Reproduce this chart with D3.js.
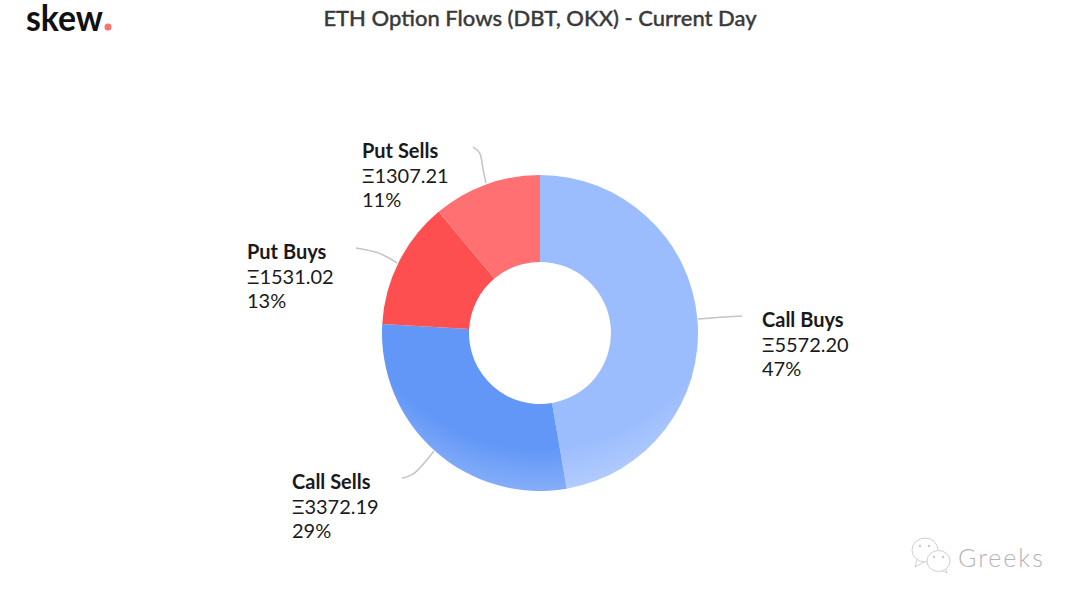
<!DOCTYPE html>
<html>
<head>
<meta charset="utf-8">
<script src="https://cdn.jsdelivr.net/npm/d3@7"></script>
<style>
  body { margin: 0; background: #fff; }
  svg { display: block; }
  text { font-family: Lato, "Open Sans", sans-serif; fill: #1a1a1a; }
</style>
</head>
<body>
<div id="chart"></div>
<script>
const categories = ['Call Buys', 'Call Sells', 'Put Buys', 'Put Sells'];
const flows = [5572.20, 3372.19, 1531.02, 1307.21];
const percents = [47, 29, 13, 11];
const sliceColors = ['#9cbdfd', '#6297f7', '#fd4f50', '#fe7072'];
const chartTitle = 'ETH Option Flows (DBT, OKX) - Current Day';

const width = 1080, height = 603;
const cx = 540, cy = 333, outerR = 158, innerR = 71;

// where each label block starts and how its leader bends
const labelPos = [[762, 327], [292, 489], [247, 259], [362, 158]];
const leaders = [
  [[698, 319], [720, 317], [742, 316]],
  [[434, 451], [422, 466], [412, 476], [402, 478]],
  [[397, 263], [380, 252], [356, 248]],
  [[486, 183], [482, 165], [481, 152], [473, 147]]
];

const svg = d3.select('#chart').append('svg')
  .attr('width', width)
  .attr('height', height);

// lightening towards the bottom edge, centred above the pie
const defs = svg.append('defs');
sliceColors.forEach((c, i) => {
  const grad = defs.append('radialGradient')
    .attr('id', 'slice' + i)
    .attr('gradientUnits', 'userSpaceOnUse')
    .attr('cx', 0).attr('cy', -77).attr('r', 235);
  grad.append('stop').attr('offset', '0.82').attr('stop-color', c);
  grad.append('stop').attr('offset', '1').attr('stop-color', d3.interpolateRgb(c, '#fff')(0.22));
});

const pie = d3.pie().sort(null).value(d => d);
const arc = d3.arc().innerRadius(innerR).outerRadius(outerR);

svg.append('g')
  .attr('transform', `translate(${cx},${cy})`)
  .selectAll('path')
  .data(pie(flows))
  .enter()
  .append('path')
  .attr('d', arc)
  .attr('fill', (d, i) => `url(#slice${i})`);

const leaderLine = d3.line().curve(d3.curveBasis);
svg.append('g')
  .selectAll('path')
  .data(leaders)
  .enter()
  .append('path')
  .attr('d', d => leaderLine(d))
  .attr('fill', 'none')
  .attr('stroke', '#c4c4c4')
  .attr('stroke-width', 1.5);

const labels = svg.append('g')
  .selectAll('g')
  .data(categories)
  .enter()
  .append('g')
  .attr('transform', (d, i) => `translate(${labelPos[i][0]},${labelPos[i][1]})`);

labels.append('text')
  .attr('font-size', 20)
  .attr('font-weight', 700)
  .text(d => d);
labels.append('text')
  .attr('y', 25)
  .attr('font-size', 20)
  .text((d, i) => 'Ξ' + flows[i].toFixed(2));
labels.append('text')
  .attr('y', 49)
  .attr('font-size', 20)
  .text((d, i) => percents[i] + '%');

svg.append('text')
  .attr('x', 540)
  .attr('y', 26)
  .attr('text-anchor', 'middle')
  .attr('font-size', 22)
  .attr('font-weight', 500)
  .attr('stroke', '#3a3a3a')
  .attr('stroke-width', 0.35)
  .style('fill', '#3a3a3a')
  .text(chartTitle);

// logo
svg.append('text')
  .attr('x', 26)
  .attr('y', 31)
  .attr('font-size', 37)
  .attr('font-weight', 700)
  .attr('textLength', 77)
  .attr('lengthAdjust', 'spacingAndGlyphs')
  .style('fill', '#111')
  .text('skew');
svg.append('circle')
  .attr('cx', 108).attr('cy', 27).attr('r', 3.5)
  .attr('fill', '#fe7072');

// watermark
const mark = svg.append('g').attr('fill', '#fff').attr('stroke', '#d0d0d0').attr('stroke-width', 1);
mark.append('path').attr('d', 'M917 560 L915 567 L924 562');
mark.append('ellipse').attr('cx', 925).attr('cy', 550).attr('rx', 13).attr('ry', 12);
mark.append('path').attr('d', 'M941 570 L947 573 L945 567');
mark.append('ellipse').attr('cx', 938.5).attr('cy', 561).attr('rx', 11.5).attr('ry', 10.5);
svg.append('g').attr('fill', '#c8c8c8')
  .selectAll('circle')
  .data([[920, 546], [929, 546], [934, 557], [943, 557]])
  .enter()
  .append('circle')
  .attr('cx', d => d[0]).attr('cy', d => d[1]).attr('r', 1.2);
svg.append('text')
  .attr('x', 958)
  .attr('y', 567)
  .attr('font-size', 25)
  .attr('font-weight', 300)
  .attr('letter-spacing', 2)
  .style('fill', '#b4b4b4')
  .text('Greeks');
</script>
</body>
</html>
